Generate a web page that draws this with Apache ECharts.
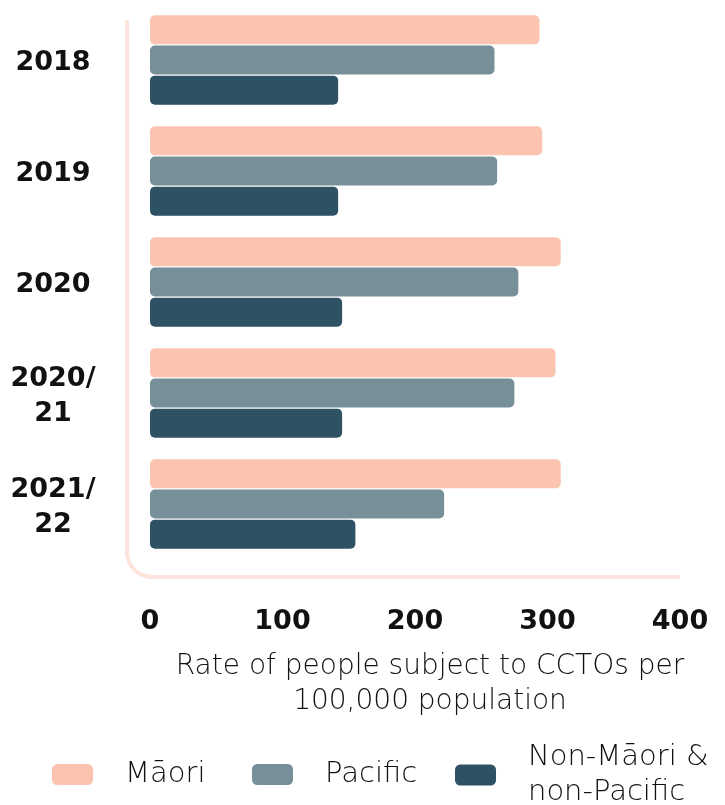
<!DOCTYPE html>
<html>
<head>
<meta charset="utf-8">
<script src="https://cdn.jsdelivr.net/npm/echarts@6/dist/echarts.min.js"></script>
<style>
  html, body { margin: 0; padding: 0; background: #ffffff; }
  #chart { width: 725px; height: 805px; }
</style>
</head>
<body>
<div id="chart"></div>
<script>
// Reporting periods (top to bottom)
const categories = ['2018', '2019', '2020', '2020/21', '2021/22'];

// Rate of people subject to CCTOs per 100,000 population
const maori = [294, 296, 310, 306, 310];
const pacific = [260, 262, 278, 275, 222];
const nonMaoriNonPacific = [142, 142, 145, 145, 155];

const xTicks = [0, 100, 200, 300, 400];

const seriesNames = ['Māori', 'Pacific', 'Non-Māori & non-Pacific'];
const seriesColors = ['#fbc4b1', '#778f98', '#2e5263'];
const seriesValues = [maori, pacific, nonMaoriNonPacific];

const boldFont = 'DejaVu Sans';
const lightFont = 'DejaVu Sans';
const lightWeight = 200;

const chart = echarts.init(document.getElementById('chart'), null, { renderer: 'canvas' });

const legendLefts = [47, 247, 450];
const legendTops = [752, 752, 735];
const frameStyle = { stroke: '#fde3db', lineWidth: 4, fill: null };

const option = {
  backgroundColor: '#ffffff',
  animation: false,
  grid: { left: 150, right: 45, top: 4.5, bottom: 245.5, containLabel: false },
  xAxis: {
    type: 'value',
    min: xTicks[0],
    max: xTicks[xTicks.length - 1],
    interval: 100,
    axisLine: { show: false },
    axisTick: { show: false },
    splitLine: { show: false },
    axisLabel: {
      margin: 49,
      color: '#111111',
      fontFamily: boldFont,
      fontWeight: 'bold',
      fontSize: 27
    },
    name: 'Rate of people subject to CCTOs per\n100,000 population',
    nameLocation: 'middle',
    nameGap: 90,
    nameTextStyle: {
      color: '#111111',
      fontFamily: lightFont,
      fontWeight: lightWeight,
      fontSize: 28,
      lineHeight: 35,
      padding: [0, 0, 0, 30],
      verticalAlign: 'top'
    }
  },
  yAxis: {
    type: 'category',
    data: categories,
    inverse: true,
    axisLine: { show: false },
    axisTick: { show: false },
    splitLine: { show: false },
    axisLabel: {
      margin: 97,
      align: 'center',
      color: '#111111',
      fontFamily: boldFont,
      fontWeight: 'bold',
      fontSize: 27,
      lineHeight: 35,
      formatter: v => v.split('/').map((part, k, arr) =>
        '{y|' + part + (k < arr.length - 1 ? '/' : '') + '}').join('\n'),
      rich: {
        y: {
          fontFamily: boldFont,
          fontWeight: 'bold',
          fontSize: 27,
          lineHeight: 35,
          padding: [6, 0, 0, 0],
          color: '#111111'
        }
      }
    }
  },
  legend: seriesNames.map((name, i) => ({
    data: [name],
    left: legendLefts[i],
    top: legendTops[i],
    orient: 'horizontal',
    icon: 'roundRect',
    itemWidth: 41,
    itemHeight: 21,
    selectedMode: false,
    formatter: n => n.replace(' & ', ' &\n'),
    textStyle: {
      color: '#111111',
      fontFamily: lightFont,
      fontWeight: lightWeight,
      fontSize: 29,
      lineHeight: 35,
      padding: [0, 0, 0, 27]
    }
  })),
  // Rounded L-shaped frame around the plot
  graphic: [
    { type: 'line', silent: true, shape: { x1: 127, y1: 20, x2: 127, y2: 552 }, style: frameStyle },
    { type: 'arc', silent: true, shape: { cx: 152, cy: 552, r: 25, startAngle: Math.PI / 2, endAngle: Math.PI, clockwise: true }, style: frameStyle },
    { type: 'line', silent: true, shape: { x1: 152, y1: 577, x2: 680, y2: 577 }, style: frameStyle }
  ],
  series: seriesNames.map((name, i) => ({
    name: name,
    type: 'bar',
    data: seriesValues[i],
    barWidth: 29,
    barGap: '4%',
    itemStyle: { color: seriesColors[i], borderRadius: 5 },
    emphasis: { disabled: true }
  }))
};

chart.setOption(option);
</script>
</body>
</html>
